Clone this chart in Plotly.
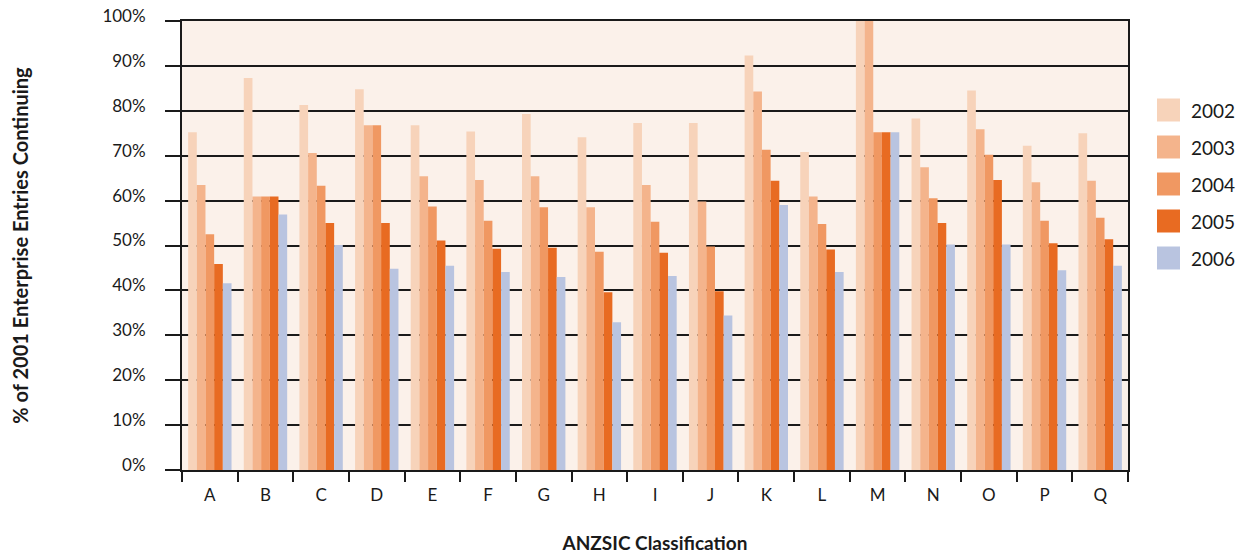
import plotly.graph_objects as go

categories = ["A", "B", "C", "D", "E", "F", "G", "H", "I", "J", "K", "L", "M", "N", "O", "P", "Q"]

series_names = ["2002", "2003", "2004", "2005", "2006"]

v2002 = [75.2, 87.3, 81.3, 84.8, 76.8, 75.4, 79.3, 74.1, 77.3, 77.3, 92.3, 70.8, 100.0, 78.3, 84.5, 72.2, 75.0]
v2003 = [63.5, 60.9, 70.6, 76.8, 65.4, 64.6, 65.4, 58.5, 63.5, 59.8, 84.3, 60.9, 100.0, 67.4, 75.9, 64.1, 64.4]
v2004 = [52.5, 60.9, 63.3, 76.8, 58.7, 55.5, 58.5, 48.6, 55.3, 49.8, 71.3, 54.8, 75.2, 60.5, 70.2, 55.5, 56.2]
v2005 = [45.9, 60.9, 55.0, 55.0, 51.1, 49.3, 49.5, 39.6, 48.4, 39.8, 64.4, 49.1, 75.2, 55.0, 64.6, 50.5, 51.4]
v2006 = [41.6, 56.9, 50.1, 44.8, 45.5, 44.1, 43.0, 32.9, 43.2, 34.4, 59.0, 44.1, 75.2, 50.2, 50.2, 44.5, 45.5]

values = [v2002, v2003, v2004, v2005, v2006]
colors = ["#F7D3BA", "#F4B48C", "#F09862", "#E86B22", "#B9C4E0"]

FONT = "Lato"
INK = "#1a1a1a"

fig = go.Figure()
for name, vals, col in zip(series_names, values, colors):
    fig.add_trace(go.Bar(
        x=categories, y=vals, name=name,
        marker=dict(color=col, line=dict(width=0)),
        showlegend=False,
    ))

# Legend drawn as large swatches with labels to the right of the plot
legend_top = 110
legend_step = 37
for i, (name, col) in enumerate(zip(series_names, colors)):
    yc = legend_top + i * legend_step
    fig.add_shape(type="rect", xref="paper", yref="paper",
                  x0=(1157 - 182) / 946, x1=(1180 - 182) / 946,
                  y0=(470 - (yc + 11.5)) / 449, y1=(470 - (yc - 11.5)) / 449,
                  fillcolor=col, line=dict(width=0))
    fig.add_annotation(xref="paper", yref="paper",
                       x=(1189 - 182) / 946, y=(470 - yc) / 449,
                       text=name, showarrow=False, xanchor="left", yanchor="middle",
                       font=dict(family=FONT, size=19, color=INK))

fig.update_layout(
    width=1244, height=554,
    margin=dict(l=182, r=116, t=21, b=84, autoexpand=False),
    paper_bgcolor="white",
    plot_bgcolor="#FBF1EA",
    barmode="group",
    bargap=0.22,
    bargroupgap=0,
    font=dict(family=FONT, size=16, color=INK),
    xaxis=dict(
        title=dict(text="<b>ANZSIC Classification</b>", font=dict(family=FONT, size=19, color=INK), standoff=36),
        showline=True, linecolor=INK, linewidth=2, mirror=True,
        ticks="outside", tickson="boundaries", ticklen=10, tickwidth=2, tickcolor=INK,
        showgrid=False, automargin=False,
        ticklabelstandoff=9,
        tickfont=dict(family=FONT, size=17, color=INK),
    ),
    yaxis=dict(
        title=dict(text="<b>% of 2001 Enterprise Entries Continuing</b>", font=dict(family=FONT, size=20, color=INK), standoff=68),
        range=[0, 100], dtick=10, ticksuffix="%",
        showline=True, linecolor=INK, linewidth=2, mirror=True,
        ticks="outside", ticklen=15, tickwidth=2, tickcolor=INK,
        showgrid=True, gridcolor=INK, gridwidth=1.6,
        zeroline=False, automargin=False,
        ticklabelstandoff=16, ticklabelshift=-5,
        tickfont=dict(family=FONT, size=17, color=INK),
    ),
)

fig.write_html("out.html")
